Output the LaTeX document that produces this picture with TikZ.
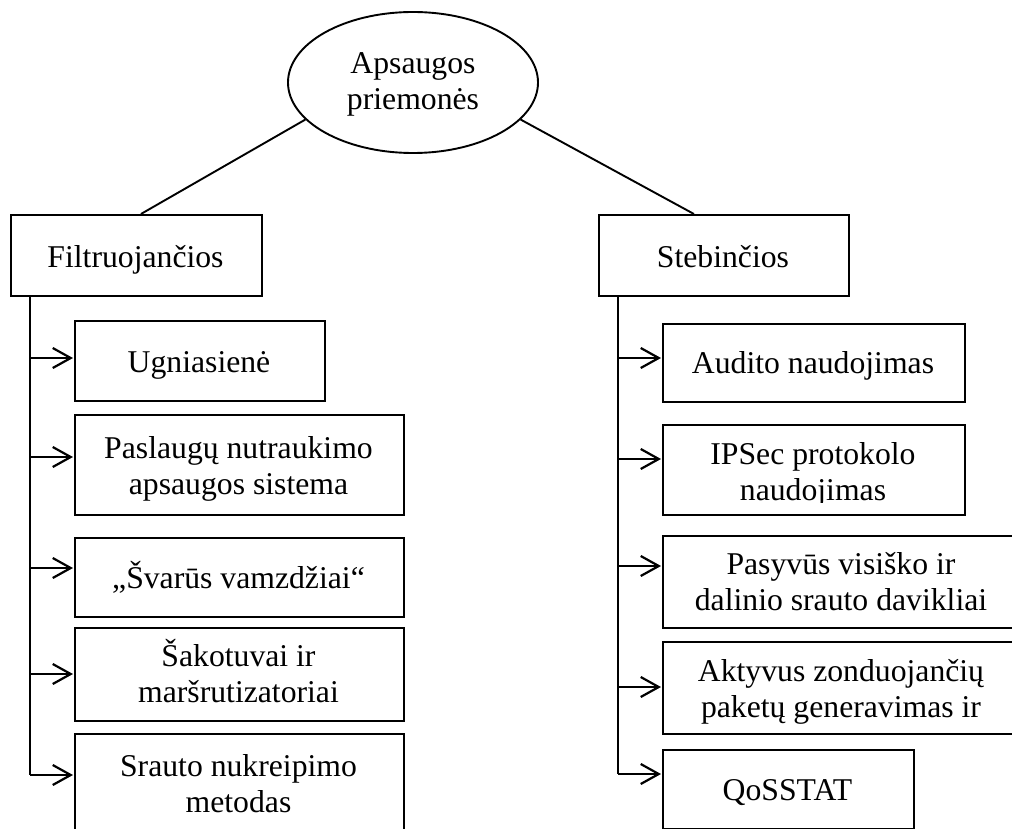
\documentclass[tikz,border=0pt]{standalone}
\usepackage{fontspec}
\setmainfont{Liberation Serif}
\usetikzlibrary{shapes.geometric,arrows.meta}
\begin{document}
\begin{tikzpicture}[x=1pt,y=-1pt,
  frame/.style={draw, rectangle, line width=1.9pt, inner sep=0pt, anchor=north west},
  txt/.style={inner sep=0pt, anchor=base, align=center, font=\fontsize{31.7}{36}\selectfont},
  link/.style={line width=1.9pt},
  trunk/.style={line width=2.2pt},
  branch/.style={line width=2.2pt, -{Straight Barb[length=18pt,width=20pt]}, shorten >=1pt}]
\useasboundingbox (0,0) rectangle (1012,829);
\clip (0,0) rectangle (1012,829);

% root ellipse and the two groups (multi-line text is placed by its last baseline)
\node[draw, ellipse, line width=1.9pt, minimum width=250pt, minimum height=141pt, inner sep=0pt] (root) at (413,82.5) {};
\node[txt] (roott) at (413,110) {Apsaugos\\priemonės};

\node[frame, minimum width=251pt, minimum height=81pt] (filt) at (10,214) {};
\node[txt] (filtt) at (135.5,267) {Filtruojančios};
\node[frame, minimum width=250pt, minimum height=81pt] (steb) at (598,214) {};
\node[txt] (stebt) at (723,267) {Stebinčios};

\draw[link] (root.199.85) -- ([xshift=4.5pt]filt.north);
\draw[link] (root.341) -- ([xshift=-30pt]steb.north);

% filtering measures
\node[frame, minimum width=250pt, minimum height=80pt] (u1) at (74,320) {};
\node[txt] (u1t) at (199,372) {Ugniasienė};
\node[frame, minimum width=329pt, minimum height=100pt] (u2) at (74,414) {};
\node[txt] (u2t) at (238.5,494) {Paslaugų nutraukimo\\apsaugos sistema};
\node[frame, minimum width=329pt, minimum height=79pt] (u3) at (74,537) {};
\node[txt] (u3t) at (238.5,588) {„Švarūs vamzdžiai“};
\node[frame, minimum width=329pt, minimum height=93pt] (u4) at (74,627) {};
\node[txt] (u4t) at (238.5,702.5) {Šakotuvai ir\\maršrutizatoriai};
\node[frame, minimum width=329pt, minimum height=107pt] (u5) at (74,733) {};
\node[txt] (u5t) at (238.5,812) {Srauto nukreipimo\\metodas};

% monitoring measures
\node[frame, minimum width=302pt, minimum height=78pt] (s1) at (662,323) {};
\node[txt] (s1t) at (813,373) {Audito naudojimas};
\node[frame, minimum width=302pt, minimum height=90pt] (s2) at (662,424) {};
\begin{scope}
  \clip (662,424) rectangle (964,502);
  \node[txt] (s2t) at (813,500) {IPSec protokolo\\naudojimas};
\end{scope}
\node[frame, minimum width=358pt, minimum height=92pt] (s3) at (662,535) {};
\node[txt] (s3t) at (841,610) {Pasyvūs visiško ir\\dalinio srauto davikliai};
\node[frame, minimum width=358pt, minimum height=92pt] (s4) at (662,641) {};
\begin{scope}
  \clip (662,641) rectangle (1020,726);
  \node[txt] (s4t) at (841,717) {Aktyvus zonduojančių\\paketų generavimas ir};
\end{scope}
\node[frame, minimum width=251pt, minimum height=79pt] (s5) at (662,749) {};
\node[txt] (s5t) at (787.5,800) {QoSSTAT};

% branching points on the trunks
\coordinate (fa1) at (30,358);
\coordinate (fa2) at (30,457);
\coordinate (fa3) at (30,568);
\coordinate (fa4) at (30,674);
\coordinate (fa5) at (30,775);
\coordinate (sa1) at (618,358);
\coordinate (sa2) at (618,459);
\coordinate (sa3) at (618,566);
\coordinate (sa4) at (618,687);
\coordinate (sa5) at (618,774);

\draw[trunk] (fa1 |- filt.south) -- (fa5);
\draw[trunk] (sa1 |- steb.south) -- (sa5);

\foreach \i in {1,...,5} {
  \draw[branch] (fa\i) -- (fa\i -| u\i.west);
  \draw[branch] (sa\i) -- (sa\i -| s\i.west);
}
\end{tikzpicture}
\end{document}
